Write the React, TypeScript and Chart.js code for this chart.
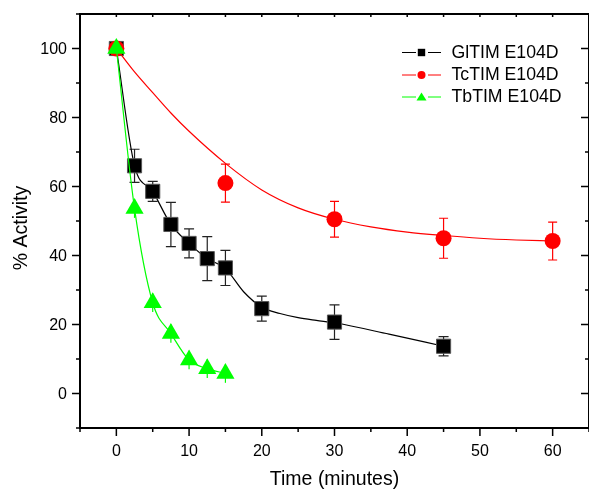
import React, { useEffect, useRef } from 'react';
import { Chart, registerables } from 'chart.js';

Chart.register(...registerables);

// ---- Data ----
const timeGl = [0, 2.5, 5, 7.5, 10, 12.5, 15, 20, 30, 45];
const actGl = [100, 66, 58.6, 49, 43.5, 39.1, 36.4, 24.6, 20.7, 13.7];
const errGl = [0, 4.8, 2.9, 6.4, 4.2, 6.4, 5.1, 3.6, 5.0, 2.8];

const fitTimeGl = [0, 2.5, 5, 7.5, 10, 12.5, 15, 17.5, 20, 22.5, 25, 27.5, 30, 37.5, 45];
const fitGl = [100, 66, 58.6, 49, 43.5, 39.1, 36.2, 29.5, 25, 23.2, 22, 21.2, 20.5, 17.2, 13.7];

const timeTc = [0, 15, 30, 45, 60];
const actTc = [100, 61, 50.5, 45, 44.2];
const errTc = [0, 5.5, 5.2, 5.8, 5.5];

const fitTimeTc = [0, 2.5, 5, 7.5, 10, 15, 20, 25, 30, 35, 40, 45, 50, 55, 60];
const fitTc = [100, 93.2, 87.2, 81.3, 76, 66.7, 59, 53.8, 50.5, 48.3, 46.8, 45.8, 45, 44.5, 44.2];

const timeTb = [0, 2.5, 5, 7.5, 10, 12.5, 15];
const actTb = [100, 53.6, 26.3, 17.4, 9.7, 7.2, 5.8];
const errTb = [0, 2.7, 2.7, 2.7, 2.7, 2.7, 2.7];

const seriesNames = ['GlTIM E104D', 'TcTIM E104D', 'TbTIM E104D'];
const xMajorTicks = [0, 10, 20, 30, 40, 50, 60];
const xMinorTicks = [-5, 5, 15, 25, 35, 45, 55, 65];
const yMajorTicks = [0, 20, 40, 60, 80, 100];
const yMinorTicks = [-10, 10, 30, 50, 70, 90, 110];
const xTitle = 'Time (minutes)';
const yTitle = '% Activity';

const FONT = '"Liberation Sans", Arial, sans-serif';

const toXY = (xs: number[], ys: number[]) => xs.map((x, i) => ({ x, y: ys[i] }));

const originPlugin = {
  id: 'originStyle',
  beforeDatasetsDraw(chart: any) {
    const ctx = chart.ctx;
    const xs = chart.scales.x;
    const ys = chart.scales.y;
    const sets = [
      { t: timeGl, v: actGl, e: errGl, color: '#222', cap: 5 },
      { t: timeTc, v: actTc, e: errTc, color: '#ff0000', cap: 4.5 },
      { t: timeTb, v: actTb, e: errTb, color: '#00ff00', cap: 0 },
    ];
    ctx.save();
    ctx.lineWidth = 1.2;
    for (const s of sets) {
      ctx.strokeStyle = s.color;
      s.t.forEach((t, i) => {
        if (!s.e[i]) return;
        const px = xs.getPixelForValue(t);
        const top = ys.getPixelForValue(s.v[i] + s.e[i]);
        const bot = ys.getPixelForValue(s.v[i] - s.e[i]);
        ctx.beginPath();
        ctx.moveTo(px, top);
        ctx.lineTo(px, bot);
        if (s.cap > 0) {
          ctx.moveTo(px - s.cap, top);
          ctx.lineTo(px + s.cap, top);
          ctx.moveTo(px - s.cap, bot);
          ctx.lineTo(px + s.cap, bot);
        }
        ctx.stroke();
      });
    }
    ctx.restore();
  },
  afterDatasetsDraw(chart: any) {
    const ctx = chart.ctx;
    const xs = chart.scales.x;
    const ys = chart.scales.y;
    const { left, right, top, bottom } = chart.chartArea;
    ctx.save();
    ctx.strokeStyle = '#000';
    ctx.lineWidth = 2;
    ctx.beginPath();
    ctx.rect(left, top, right - left, bottom - top);
    ctx.stroke();

    ctx.lineWidth = 1.5;
    ctx.beginPath();
    for (const v of yMajorTicks) {
      const py = ys.getPixelForValue(v);
      ctx.moveTo(left - 8, py); ctx.lineTo(left, py);
      ctx.moveTo(right - 8, py); ctx.lineTo(right, py);
    }
    for (const v of yMinorTicks) {
      const py = ys.getPixelForValue(v);
      ctx.moveTo(left - 4, py); ctx.lineTo(left, py);
      ctx.moveTo(right - 4, py); ctx.lineTo(right, py);
    }
    for (const v of xMajorTicks) {
      const px = xs.getPixelForValue(v);
      ctx.moveTo(px, bottom); ctx.lineTo(px, bottom + 8);
      ctx.moveTo(px, top); ctx.lineTo(px, top + 3);
    }
    for (const v of xMinorTicks) {
      const px = xs.getPixelForValue(v);
      ctx.moveTo(px, bottom); ctx.lineTo(px, bottom + 4);
      ctx.moveTo(px, top); ctx.lineTo(px, top + 3);
    }
    ctx.stroke();

    ctx.fillStyle = '#000';
    ctx.font = `16px ${FONT}`;
    ctx.textBaseline = 'alphabetic';
    ctx.textAlign = 'right';
    for (const v of yMajorTicks) {
      const py = ys.getPixelForValue(v);
      ctx.fillText(String(v), left - 13, py + 5.8);
    }
    ctx.textAlign = 'center';
    for (const v of xMajorTicks) {
      const px = xs.getPixelForValue(v);
      ctx.fillText(String(v), px, bottom + 28);
    }

    ctx.font = `19.5px ${FONT}`;
    ctx.textAlign = 'center';
    ctx.fillText(xTitle, (left + right) / 2, bottom + 57);
    ctx.save();
    ctx.translate(26.7, 228);
    ctx.rotate(-Math.PI / 2);
    ctx.fillText(yTitle, 0, 0);
    ctx.restore();

    const rows = [52.5, 75, 97];
    const colors = ['#000000', '#ff0000', '#00ff00'];
    const lx0 = 402, lx1 = 441, mx = 421.5;
    ctx.font = `17.7px ${FONT}`;
    ctx.textAlign = 'left';
    ctx.textBaseline = 'middle';
    rows.forEach((ry, i) => {
      ctx.strokeStyle = colors[i];
      ctx.lineWidth = 1;
      ctx.beginPath();
      ctx.moveTo(lx0, ry); ctx.lineTo(mx - 5.5, ry);
      ctx.moveTo(mx + 6.5, ry); ctx.lineTo(lx1, ry);
      ctx.stroke();
      ctx.fillStyle = colors[i];
      ctx.beginPath();
      if (i === 0) {
        ctx.rect(mx - 3.7, ry - 3.7, 7.4, 7.4);
      } else if (i === 1) {
        ctx.arc(mx, ry, 4, 0, Math.PI * 2);
      } else {
        ctx.moveTo(mx, ry - 4.5);
        ctx.lineTo(mx + 5, ry + 3.5);
        ctx.lineTo(mx - 5, ry + 3.5);
        ctx.closePath();
      }
      ctx.fill();
      ctx.fillStyle = '#000';
      ctx.fillText(seriesNames[i], 451.5, ry + 0.5);
    });
    ctx.restore();
  },
};

export default function App() {
  const ref = useRef<HTMLCanvasElement | null>(null);
  useEffect(() => {
    if (!ref.current) return;
    const chart = new Chart(ref.current, {
      type: 'line',
      data: {
        datasets: [
          {
            label: 'Gl fit',
            data: toXY(fitTimeGl, fitGl),
            borderColor: '#000',
            borderWidth: 1.2,
            pointRadius: 0,
            cubicInterpolationMode: 'monotone',
            order: 3.5,
          },
          {
            label: seriesNames[0],
            data: toXY(timeGl, actGl),
            showLine: false,
            borderColor: '#000',
            backgroundColor: '#000',
            pointBackgroundColor: '#000',
            pointBorderColor: '#555',
            pointBorderWidth: 1,
            pointStyle: 'rect',
            pointRadius: 10,
            order: 3,
          },
          {
            label: 'Tc fit',
            data: toXY(fitTimeTc, fitTc),
            borderColor: '#ff0000',
            borderWidth: 1.2,
            pointRadius: 0,
            cubicInterpolationMode: 'monotone',
            order: 2.5,
          },
          {
            label: seriesNames[1],
            data: toXY(timeTc, actTc),
            showLine: false,
            borderColor: '#ff0000',
            backgroundColor: '#ff0000',
            pointBackgroundColor: '#ff0000',
            pointBorderColor: '#ff0000',
            pointBorderWidth: 0,
            pointStyle: 'circle',
            pointRadius: 8,
            order: 2,
          },
          {
            label: seriesNames[2],
            data: toXY(timeTb, actTb),
            borderColor: '#00ff00',
            borderWidth: 1.2,
            backgroundColor: '#00ff00',
            pointBackgroundColor: '#00ff00',
            pointBorderColor: '#00ff00',
            pointBorderWidth: 0,
            pointStyle: 'triangle',
            pointRadius: 10.5,
            cubicInterpolationMode: 'monotone',
            order: 1,
          },
        ],
      },
      options: {
        animation: false,
        responsive: false,
        devicePixelRatio: 1,
        layout: { padding: { left: 80, top: 14, right: 6, bottom: 61 } },
        plugins: { legend: { display: false }, tooltip: { enabled: false } },
        events: [],
        scales: {
          x: { type: 'linear', min: -5, max: 65, display: false },
          y: { type: 'linear', min: -10, max: 110, display: false },
        },
      },
      plugins: [originPlugin],
    } as any);
    return () => chart.destroy();
  }, []);
  return (
    <div style={{ position: 'fixed', left: 0, top: 0, width: 589, height: 489, overflow: 'hidden', background: '#fff' }}>
      <canvas ref={ref} width={600} height={489} style={{ display: 'block', width: 600, height: 489 }} />
    </div>
  );
}
